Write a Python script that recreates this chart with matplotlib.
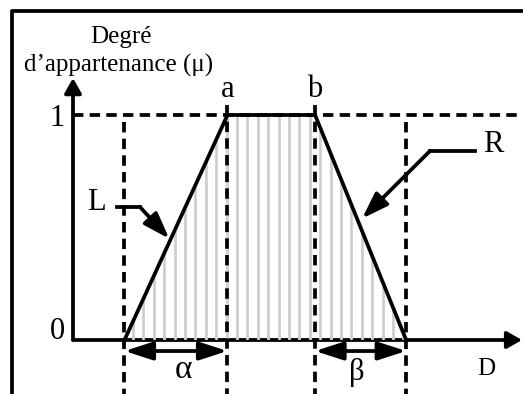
import numpy as np
import matplotlib
matplotlib.use("Agg")
import matplotlib.pyplot as plt
from matplotlib.patches import Polygon, FancyArrowPatch

plt.rcParams['font.family'] = ['Liberation Serif', 'DejaVu Serif']
plt.rcParams['lines.scale_dashes'] = False

# fonction d'appartenance trapézoïdale
a = 3.0
b = 4.7
alpha = 2.0
beta = 1.77
trap_x = [a - alpha, a, b, b + beta]
trap_mu = [0, 1, 1, 0]
mu_levels = [0, 1]
mu_labels = ['0', '1']

fig = plt.figure(figsize=(5.23, 3.94), dpi=100)
ax = fig.add_axes([0, 0, 1, 1])
ax.set_xlim(-1.4175, 8.738)
ax.set_ylim(-0.24, 1.511)
ax.axis('off')

lw = 2.7
dash = (7.5, 4.5)

# cadre
ax.plot([12 / 523, 12 / 523, 1.0], [0.0, 1 - 11 / 394, 1 - 11 / 394],
        color='k', lw=lw, transform=ax.transAxes, solid_capstyle='butt')

# hachures verticales dans le trapèze
poly = Polygon(list(zip(trap_x, trap_mu)), closed=True, facecolor='none', edgecolor='none')
ax.add_patch(poly)
hx = np.arange(3.184 - 0.202 * 12, trap_x[-1], 0.202)
vl = ax.vlines(hx, 0, 1, colors='#cfcfcf', lw=2.0)
vl.set_clip_path(poly)

# lignes pointillées
ax.plot([0, 8.74], [1, 1], color='k', lw=lw, dashes=dash)
for xv in [trap_x[0], trap_x[3]]:
    ax.plot([xv, xv], [0.969, -0.24], color='k', lw=lw, dashes=dash)
for xv in [a, b]:
    ax.plot([xv, xv], [1.044, -0.24], color='k', lw=lw, dashes=dash)

# trapèze
ax.plot(trap_x, trap_mu, color='k', lw=lw, solid_joinstyle='miter')

# axes avec flèches
head_ax = '-|>,head_length=0.6,head_width=0.34'
ax.add_patch(FancyArrowPatch((0, 0), (0, 1.164), arrowstyle=head_ax,
                             mutation_scale=15, color='k', lw=lw, shrinkA=0, shrinkB=0))
ax.add_patch(FancyArrowPatch((0, 0), (8.72, 0), arrowstyle=head_ax,
                             mutation_scale=15, color='k', lw=lw, shrinkA=0, shrinkB=0))

# flèches alpha et beta
for x0, x1 in [(trap_x[0], a), (b, trap_x[3])]:
    ax.add_patch(FancyArrowPatch((x0, -0.049), (x1, -0.049),
                                 arrowstyle='<|-|>,head_length=1.7,head_width=0.55',
                                 mutation_scale=10, color='k', lw=lw, shrinkA=0, shrinkB=0))

# étiquettes L et R
mu_l = 0.45
tip_l = (trap_x[0] + alpha * mu_l - 0.03, mu_l)
ax.plot([0.854, 1.30], [0.591, 0.591], color='k', lw=lw)
ax.add_patch(FancyArrowPatch((1.30, 0.591), tip_l, arrowstyle='-|>,head_length=1.6,head_width=0.55',
                             mutation_scale=10, color='k', lw=lw, shrinkA=0, shrinkB=0))
mu_r = 0.54
tip_r = (b + beta * (1 - mu_r) + 0.1, mu_r)
ax.plot([7.806, 6.932], [0.84, 0.84], color='k', lw=lw)
ax.add_patch(FancyArrowPatch((6.932, 0.84), tip_r, arrowstyle='-|>,head_length=1.6,head_width=0.55',
                             mutation_scale=10, color='k', lw=lw, shrinkA=0, shrinkB=0))

fs = 18
fb = 22
ax.text(0.447, 0.609, 'L', fontsize=fb, ha='center', va='center')
ax.text(8.155, 0.871, 'R', fontsize=fb, ha='center', va='center')

ax.text(0.932, 1.32, 'Degré', fontsize=fs, ha='center', va='baseline')
ax.text(0.893, 1.191, 'd\u2019appartenance (\u03bc)', fontsize=fs, ha='center', va='baseline')
ax.text(a, 1.08, 'a', fontsize=fb, ha='center', va='baseline')
ax.text(b, 1.08, 'b', fontsize=fb, ha='center', va='baseline')
label_dy = [0.004, -0.048]
for m, lab, dy in zip(mu_levels, mu_labels, label_dy):
    ax.text(-0.31, m + dy, lab, fontsize=fb, ha='center', va='baseline')
ax.text(2.136, -0.169, '\u03b1', fontsize=fb + 2, ha='center', va='baseline')
ax.text(5.51, -0.18, '\u03b2', fontsize=fb, ha='center', va='baseline')
ax.text(8.02, -0.156, 'D', fontsize=fs, ha='center', va='baseline')

fig.savefig('out.png', dpi=100)
